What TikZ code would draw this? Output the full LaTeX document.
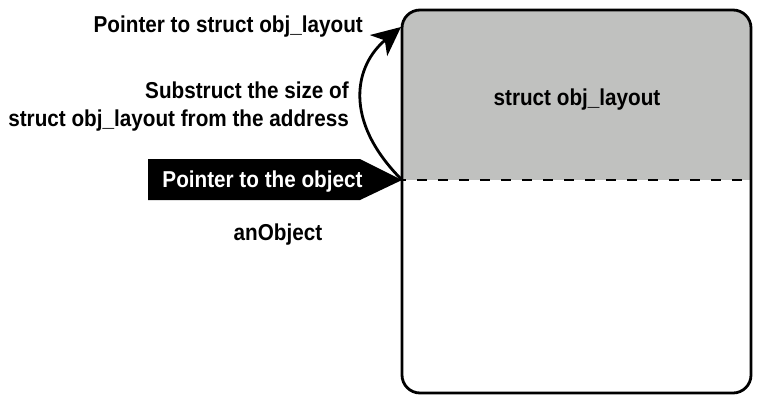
\documentclass[tikz,border=0pt]{standalone}
\usepackage{fontspec}
\setmainfont{Liberation Sans}[FakeStretch=0.9]
\usepackage{xcolor}
\usetikzlibrary{arrows.meta}
\definecolor{layoutgray}{RGB}{192,193,191}

\begin{document}
\begin{tikzpicture}[
    x=1pt,y=-1pt,
    memblock/.style={draw,line width=2.8pt,rounded corners=18pt,minimum width=349pt,
      minimum height=383pt,inner sep=0pt,outer sep=0pt,
      path picture={\fill[layoutgray,sharp corners] (path picture bounding box.north west)
        rectangle ([yshift=-170pt]path picture bounding box.north east);}},
    note/.style={font=\fontsize{23}{28}\selectfont\bfseries,inner sep=0pt},
    ptrtag/.style={note,text=white},
    splitline/.style={line width=2.8pt,dash pattern=on 10pt off 11pt,dash phase=6pt},
    arrow/.style={-{Stealth[length=29pt,width=27pt,inset=8pt]},line width=2.8pt}
  ]
    \useasboundingbox (0,0) rectangle (776,410);
    \node[memblock] (obj) at (576.5,201.5) {};
    \coordinate (split) at ([yshift=-170pt]obj.north west);
    \coordinate (splitend) at ([yshift=-170pt]obj.north east);
    \coordinate (layouttop) at ([xshift=-1pt,yshift=-17pt]obj.north west);
    \draw[splitline] (split) -- (splitend);
    \node[note,anchor=base] (layout) at (577,105) {struct obj\_layout};

    % pointer tag
    \fill (split) -- ++(-42,-21) -- ++(-212,0) -- ++(0,41) -- ++(212,0) -- cycle;
    \node[ptrtag,anchor=base] (ptr) at (262.5,187) {Pointer to the object};
    \node[note,anchor=base] (anobj) at (278,240) {anObject};

    % step back to the header
    \node[note,anchor=base east] (toptext) at (363,32) {Pointer to struct obj\_layout};
    \node[note,align=right,anchor=east] (sub) at (349,107) {Substruct the size of\\struct obj\_layout from the address};
    \draw[arrow] (split) .. controls (342,120) and (355,65) .. (layouttop);
  \end{tikzpicture}
\end{document}
